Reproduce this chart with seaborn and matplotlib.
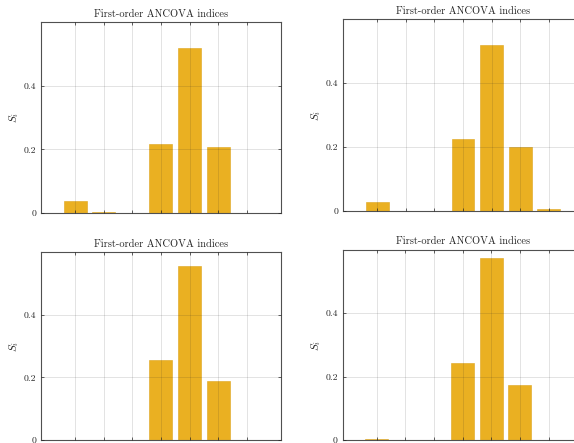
import numpy as np
import pandas as pd
import matplotlib
matplotlib.use('Agg')
import matplotlib.pyplot as plt
import seaborn as sns

# data (7 inputs each)
inputs = ['1', '2', '3', '4', '5', '6', '7']
s_top_left = [0.038, 0.003, 0.0, 0.216, 0.52, 0.208, 0.001]
s_top_right = [0.028, 0.0, 0.0, 0.225, 0.52, 0.20, 0.005]
s_bottom_left = [0.0, 0.0, 0.0, 0.254, 0.555, 0.188, 0.0]
s_bottom_right = [0.002, 0.0, 0.0, 0.242, 0.575, 0.175, 0.0]
title = 'First-order ANCOVA indices'

sns.set_style('white')
plt.rcParams['font.family'] = ['cmr10', 'DejaVu Serif']
plt.rcParams['mathtext.fontset'] = 'cm'
plt.rcParams['axes.formatter.use_mathtext'] = True

fig = plt.figure(figsize=(5.74, 4.43), dpi=100)

# axes rects (fig fraction); right column and bottom row are clipped by the frame
rects = [
    [0.0714, 0.519, 0.418, 0.431],
    [0.5976, 0.5237, 0.418, 0.433],
    [0.0714, 0.0068, 0.418, 0.424],
    [0.5970, 0.0068, 0.418, 0.429],
]
panels = [s_top_left, s_top_right, s_bottom_left, s_bottom_right]

for rect, vals in zip(rects, panels):
    ax = fig.add_axes(rect)
    df = pd.DataFrame({'input': inputs, 'S': vals})
    sns.barplot(data=df, x='input', y='S', order=inputs, color='#EAB022',
                saturation=1, width=0.8, edgecolor='#DDA41C', linewidth=0.4,
                ax=ax)
    ax.set_xlim(-1.19, 7.19)
    ax.set_ylim(0, 0.6)
    ax.set_yticks([0, 0.2, 0.4])
    ax.set_yticklabels(['0', '0.2', '0.4'])
    ax.set_xticks(range(len(inputs)))
    ax.set_xticklabels([])
    ax.set_xlabel('')
    ax.set_ylabel(r'$S_i$', fontsize=8, labelpad=2)
    ax.set_title(title, fontsize=7.5, pad=4, color='#262626')
    # grid drawn over the bars, like the original
    ax.set_axisbelow(False)
    ax.grid(True, color='#262626', alpha=0.15, linewidth=0.6)
    ax.tick_params(direction='in', length=2.5, width=0.5, colors='#262626',
                   labelsize=7, top=True, right=True, left=True, bottom=True)
    for sp in ax.spines.values():
        sp.set_visible(True)
        sp.set_color('#505050')
        sp.set_linewidth(0.8)

fig.savefig('out.png', dpi=100)
